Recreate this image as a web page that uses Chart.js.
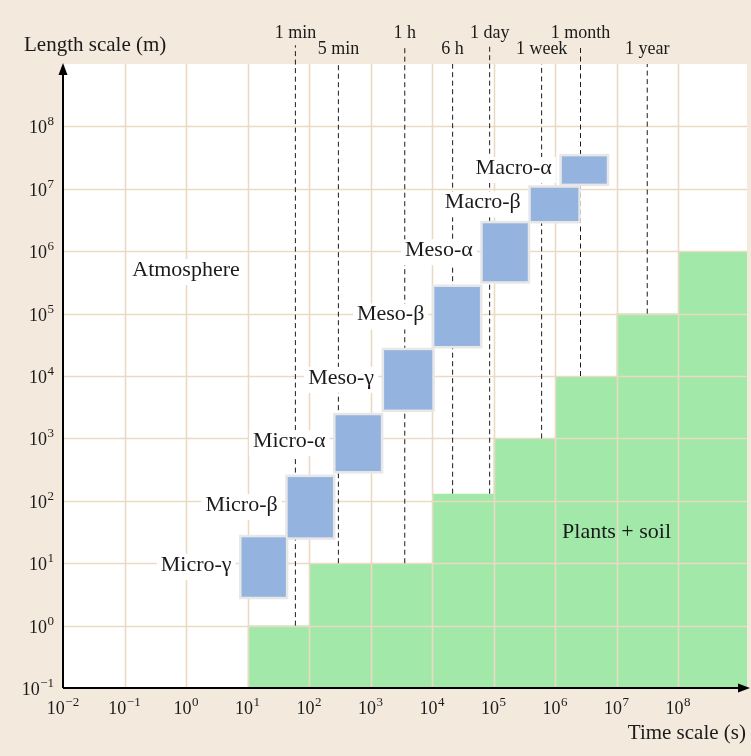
<!DOCTYPE html>
<html>
<head>
<meta charset="utf-8">
<script src="https://cdn.jsdelivr.net/npm/chart.js@4/dist/chart.umd.min.js"></script>
<style>
  html, body { margin: 0; padding: 0; background: #f3e9dd; }
  #wrap { width: 751px; height: 756px; }
</style>
</head>
<body>
<div id="wrap"><canvas id="chart" width="751" height="756"></canvas></div>
<script>
// Axis extents (seconds, metres)
const timeMin = 1e-2;
const timeMax = 1.32e9;
const lengthMin = 1e-1;
const lengthMax = 1e9;

// Plants + soil region: step heights starting at each time
const soilStepTimes   = [10, 100, 1e4, 1e5, 1e6, 1e7, 1e8, timeMax];
const soilStepLengths = [1, 10, 130, 1e3, 1e4, 1e5, 1e6, 1e6];

// Atmospheric scale classes: time range (s) and length range (m)
const scaleNames     = ['Micro-γ', 'Micro-β', 'Micro-α', 'Meso-γ', 'Meso-β', 'Meso-α', 'Macro-β', 'Macro-α'];
const scaleTimeMin   = [8, 45, 270, 1660, 10900, 66700, 403000, 1290000];
const scaleTimeMax   = [42, 245, 1470, 10100, 60000, 360000, 2390000, 6930000];
const scaleLengthMin = [2.9, 26, 300, 2900, 30300, 330000, 3050000, 12100000];
const scaleLengthMax = [26, 240, 2350, 25900, 267000, 2800000, 10400000, 33100000];

// Reference time markers
const markerNames   = ['1 min', '5 min', '1 h', '6 h', '1 day', '1 week', '1 month', '1 year'];
const markerSeconds = [60, 300, 3600, 21600, 86400, 604800, 2592000, 31536000];

// Decade tick exponents
const xTickExponents = [-2, -1, 0, 1, 2, 3, 4, 5, 6, 7, 8];
const yTickExponents = [-1, 0, 1, 2, 3, 4, 5, 6, 7, 8];

const SERIF = '"Liberation Serif", "Times New Roman", serif';
const INK = '#1b1b1b';

function soilTopAt(t) {
  let h = soilStepLengths[0];
  for (let i = 0; i < soilStepTimes.length; i++) {
    if (soilStepTimes[i] <= t) h = soilStepLengths[i];
  }
  return h;
}

// each step holds its height until the next step time
const soilDataset = {
  label: 'Plants + soil',
  data: soilStepTimes.map((t, i) => ({ x: t, y: soilStepLengths[i] })),
  stepped: 'before',
  fill: 'start',
  backgroundColor: '#a1e8a9',
  borderWidth: 0,
  pointRadius: 0,
  order: 10
};

// Dashed markers run from the soil surface up to the top (upper row reaches into the margin)
const markerDatasets = markerSeconds.map((t, i) => ({
  label: markerNames[i],
  data: [{ x: t, y: soilTopAt(t) }, { x: t, y: i % 2 === 0 ? Math.pow(10, 9.3) : lengthMax }],
  borderColor: INK,
  borderWidth: 1,
  borderDash: [5, 3.5],
  pointRadius: 0,
  fill: false,
  clip: false,
  order: 5
}));

function drawSup(ctx, base, exp, x, y, align, baseFont, expFont, rise) {
  ctx.font = baseFont;
  const wb = ctx.measureText(base).width;
  ctx.font = expFont;
  const we = ctx.measureText(exp).width;
  const total = wb + we + 0.5;
  let left = x;
  if (align === 'center') left = x - total / 2;
  else if (align === 'right') left = x - total;
  ctx.textAlign = 'left';
  ctx.textBaseline = 'alphabetic';
  ctx.font = baseFont;
  ctx.fillText(base, left, y);
  ctx.font = expFont;
  ctx.fillText(exp, left + wb + 0.5, y - rise);
}

function expText(e) {
  return e < 0 ? '\u2212' + Math.abs(e) : String(e);
}

const layers = {
  id: 'layers',
  beforeDraw(chart) {
    const { ctx, chartArea: a } = chart;
    ctx.save();
    ctx.fillStyle = '#f3e9dd';
    ctx.fillRect(0, 0, chart.width, chart.height);
    ctx.fillStyle = '#ffffff';
    ctx.fillRect(a.left, a.top, a.right - a.left, a.bottom - a.top);
    ctx.restore();
  },
  afterDatasetDraw(chart, args) {
    if (args.index !== 0) return;
    // decade grid sits on top of the soil fill
    const { ctx, chartArea: a, scales: { x, y } } = chart;
    ctx.save();
    ctx.strokeStyle = '#ebd9c4';
    ctx.lineWidth = 1.6;
    ctx.beginPath();
    xTickExponents.forEach(e => {
      if (e === -2) return;
      const px = Math.round(x.getPixelForValue(Math.pow(10, e))) + 0.5;
      ctx.moveTo(px, a.top);
      ctx.lineTo(px, a.bottom);
    });
    yTickExponents.forEach(e => {
      if (e === -1) return;
      const py = Math.round(y.getPixelForValue(Math.pow(10, e))) + 0.5;
      ctx.moveTo(a.left, py);
      ctx.lineTo(a.right, py);
    });
    ctx.stroke();
    ctx.restore();
  },
  afterDatasetsDraw(chart) {
    const { ctx, chartArea: a, scales: { x, y } } = chart;
    ctx.save();

    // scale class boxes
    const rects = scaleNames.map((n, i) => {
      const l = x.getPixelForValue(scaleTimeMin[i]);
      const r = x.getPixelForValue(scaleTimeMax[i]);
      const t = y.getPixelForValue(scaleLengthMax[i]);
      const b = y.getPixelForValue(scaleLengthMin[i]);
      return { l, r, t, b };
    });
    rects.forEach(rc => {
      ctx.fillStyle = '#e7e7e7';
      ctx.fillRect(rc.l - 2.5, rc.t - 2.5, rc.r - rc.l + 5, rc.b - rc.t + 5);
    });
    rects.forEach(rc => {
      ctx.fillStyle = '#94b4df';
      ctx.fillRect(rc.l, rc.t, rc.r - rc.l, rc.b - rc.t);
    });

    // labels with a white backing
    const labelFont = '22px ' + SERIF;
    ctx.font = labelFont;
    ctx.textBaseline = 'alphabetic';
    function backedLabel(text, xRight, base, align) {
      const w = ctx.measureText(text).width;
      const left = align === 'center' ? xRight - w / 2 : xRight - w;
      ctx.fillStyle = '#ffffff';
      ctx.fillRect(left - 4, base - 17, w + 8, 26);
      ctx.fillStyle = INK;
      ctx.textAlign = 'left';
      ctx.fillText(text, left, base);
    }
    scaleNames.forEach((n, i) => {
      const rc = rects[i];
      backedLabel(n, rc.l - 10, (rc.t + rc.b) / 2 + 4, 'right');
    });
    backedLabel('Atmosphere', x.getPixelForValue(1), y.getPixelForValue(4e5), 'center');

    ctx.fillStyle = INK;
    ctx.textAlign = 'center';
    ctx.fillText('Plants + soil', x.getPixelForValue(1e7), y.getPixelForValue(25));

    // time marker labels
    ctx.font = '18px ' + SERIF;
    ctx.textAlign = 'center';
    markerSeconds.forEach((t, i) => {
      ctx.fillText(markerNames[i], x.getPixelForValue(t), i % 2 === 0 ? 38 : 54);
    });

    // axes with arrowheads
    ctx.strokeStyle = '#000';
    ctx.fillStyle = '#000';
    ctx.lineWidth = 2;
    ctx.beginPath();
    ctx.moveTo(a.left, a.bottom);
    ctx.lineTo(a.left, a.top + 6);
    ctx.moveTo(a.left, a.bottom);
    ctx.lineTo(a.right - 4, a.bottom);
    ctx.stroke();
    ctx.beginPath();
    ctx.moveTo(a.left, a.top - 1);
    ctx.lineTo(a.left - 4.5, a.top + 11);
    ctx.lineTo(a.left + 4.5, a.top + 11);
    ctx.closePath();
    ctx.fill();
    ctx.beginPath();
    ctx.moveTo(a.right + 3, a.bottom);
    ctx.lineTo(a.right - 9, a.bottom - 4.5);
    ctx.lineTo(a.right - 9, a.bottom + 4.5);
    ctx.closePath();
    ctx.fill();

    // decade tick labels
    ctx.fillStyle = INK;
    const baseFont = '18px ' + SERIF;
    const supFont = '13px ' + SERIF;
    xTickExponents.forEach(e => {
      drawSup(ctx, '10', expText(e), x.getPixelForValue(Math.pow(10, e)), a.bottom + 26, 'center', baseFont, supFont, 8);
    });
    yTickExponents.forEach(e => {
      drawSup(ctx, '10', expText(e), a.left - 9, y.getPixelForValue(Math.pow(10, e)) + 7, 'right', baseFont, supFont, 8);
    });

    // axis titles
    ctx.font = '21px ' + SERIF;
    ctx.textAlign = 'left';
    ctx.fillText('Length scale (m)', 24, 51);
    ctx.textAlign = 'right';
    ctx.fillText('Time scale (s)', 746, 739);

    ctx.restore();
  }
};

new Chart(document.getElementById('chart'), {
  type: 'line',
  data: { datasets: [soilDataset, ...markerDatasets] },
  options: {
    responsive: false,
    animation: false,
    events: [],
    layout: { padding: { left: 63, right: 4, top: 64, bottom: 68 } },
    plugins: { legend: { display: false }, tooltip: { enabled: false } },
    scales: {
      x: { type: 'logarithmic', min: timeMin, max: timeMax, display: false },
      y: { type: 'logarithmic', min: lengthMin, max: lengthMax, display: false }
    }
  },
  plugins: [layers]
});
</script>
</body>
</html>
